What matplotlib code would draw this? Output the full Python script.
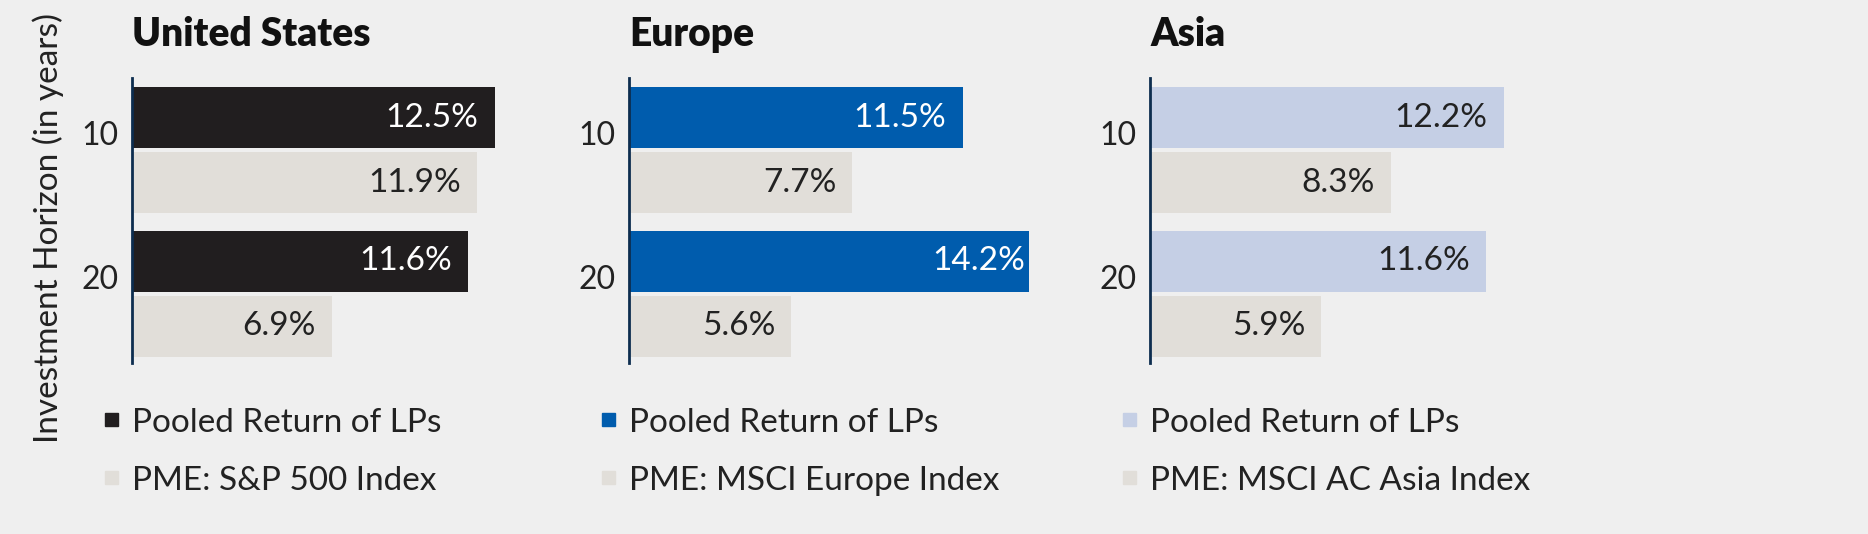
import matplotlib.pyplot as plt
from matplotlib.patches import Rectangle
from matplotlib.transforms import offset_copy

plt.rcParams['font.family'] = ['Lato', 'DejaVu Sans']

# данные
regions = ['United States', 'Europe', 'Asia']
horizons = ['10', '20']
lp_returns = [[12.5, 11.6], [11.5, 14.2], [12.2, 11.6]]
pme_returns = [[11.9, 6.9], [7.7, 5.6], [8.3, 5.9]]
pme_names = ['PME: S&P 500 Index', 'PME: MSCI Europe Index', 'PME: MSCI AC Asia Index']
lp_name = 'Pooled Return of LPs'

lp_colors = ['#211e1f', '#005cad', '#c5cfe5']
lp_text_colors = ['white', 'white', '#222222']
pme_color = '#e1ded9'
bg = '#efefef'
text_color = '#222222'

W, H = 1868, 534
fig = plt.figure(figsize=(W / 100, H / 100), dpi=100, facecolor=bg)

# положение панелей в пикселях
lefts = [132, 629, 1150]
ax_top, ax_bot = 78, 363
ax_w = 400
xmax = ax_w / 29.0

groups = [0.0, 2.215]
bar_h = 0.94

for i in range(3):
    ax = fig.add_axes([lefts[i] / W, 1 - ax_bot / H, ax_w / W, (ax_bot - ax_top) / H])
    ax.set_facecolor('none')
    y_lp = [g - 0.5 for g in groups]
    y_pme = [g + 0.5 for g in groups]
    ax.barh(y_lp, lp_returns[i], height=bar_h, color=lp_colors[i])
    ax.barh(y_pme, pme_returns[i], height=bar_h, color=pme_color)
    # подписи значений внутри столбцов
    tr = offset_copy(ax.transData, fig=fig, x=-16, y=0, units='dots')
    for y, v in zip(y_lp, lp_returns[i]):
        ax.text(v, y, f'{v}%', transform=tr, ha='right', va='center',
                fontsize=24, color=lp_text_colors[i])
    for y, v in zip(y_pme, pme_returns[i]):
        ax.text(v, y, f'{v}%', transform=tr, ha='right', va='center',
                fontsize=24, color=text_color)
    ax.set_xlim(0, xmax)
    ax.set_ylim(3.277, -1.108)
    ax.set_yticks([g - 0.26 for g in groups], horizons)
    ax.tick_params(axis='y', length=0, pad=9.5, labelsize=23, labelcolor=text_color)
    ax.set_xticks([])
    for s in ['top', 'right', 'bottom']:
        ax.spines[s].set_visible(False)
    ax.spines['left'].set_color('#0d2d4f')
    ax.spines['left'].set_linewidth(2)

    # заголовок
    fig.text(lefts[i] / W, 1 - 46 / H, regions[i], fontsize=28, fontweight='heavy',
             color='#111111', va='baseline', ha='left')

    # легенда
    for row, (label, col) in enumerate([(lp_name, lp_colors[i]), (pme_names[i], pme_color)]):
        base = [432, 490][row]
        fig.text(lefts[i] / W, 1 - base / H, label, fontsize=24, color=text_color,
                 va='baseline', ha='left')
        sx = lefts[i] - 27
        sy_bottom = base - 6
        fig.patches.append(Rectangle((sx / W, 1 - sy_bottom / H), 13 / W, 13 / H,
                                     transform=fig.transFigure, color=col))

fig.text(48.5 / W, 1 - 228 / H, 'Investment Horizon (in years)', rotation=90,
         fontsize=24, color=text_color, ha='center', va='center')

fig.savefig('out.png', dpi=100, facecolor=bg)
